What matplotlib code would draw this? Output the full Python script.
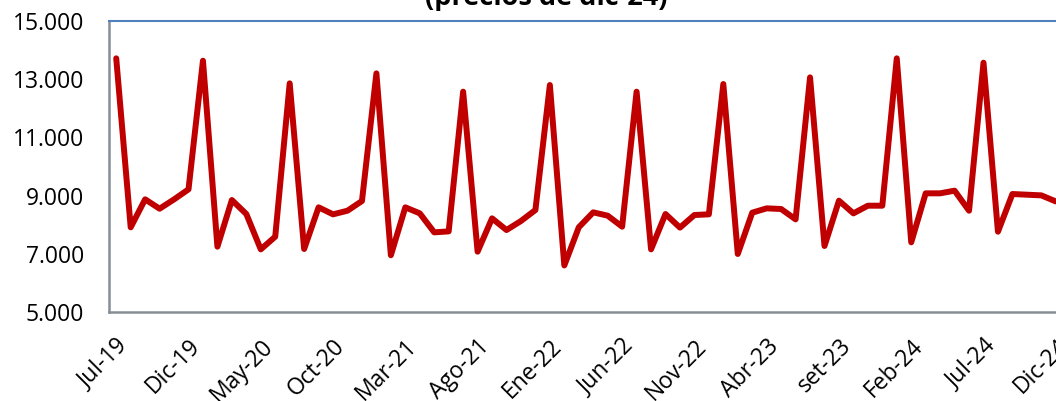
import numpy as np
import matplotlib.pyplot as plt
from matplotlib.ticker import FuncFormatter

plt.rcParams['font.family'] = ['Open Sans', 'DejaVu Sans']

# meses jul-19 ... dic-24
meses = ['Jul-19', 'Ago-19', 'Set-19', 'Oct-19', 'Nov-19', 'Dic-19',
         'Ene-20', 'Feb-20', 'Mar-20', 'Abr-20', 'May-20', 'Jun-20',
         'Jul-20', 'Ago-20', 'Set-20', 'Oct-20', 'Nov-20', 'Dic-20',
         'Ene-21', 'Feb-21', 'Mar-21', 'Abr-21', 'May-21', 'Jun-21',
         'Jul-21', 'Ago-21', 'Set-21', 'Oct-21', 'Nov-21', 'Dic-21',
         'Ene-22', 'Feb-22', 'Mar-22', 'Abr-22', 'May-22', 'Jun-22',
         'Jul-22', 'Ago-22', 'Set-22', 'Oct-22', 'Nov-22', 'Dic-22',
         'Ene-23', 'Feb-23', 'Mar-23', 'Abr-23', 'May-23', 'Jun-23',
         'Jul-23', 'Ago-23', 'set-23', 'Oct-23', 'Nov-23', 'Dic-23',
         'Ene-24', 'Feb-24', 'Mar-24', 'Abr-24', 'May-24', 'Jun-24',
         'Jul-24', 'Ago-24', 'Set-24', 'Oct-24', 'Nov-24', 'Dic-24']

valores = [13717, 7910, 8872, 8550, 8870, 9215,
           13635, 7245, 8848, 8367, 7153, 7588,
           12857, 7165, 8597, 8356, 8481, 8814,
           13201, 6950, 8597, 8390, 7737, 7771,
           12571, 7073, 8218, 7817, 8127, 8505,
           12800, 6600, 7910, 8425, 8310, 7932,
           12571, 7153, 8367, 7900, 8333, 8356,
           12834, 6993, 8413, 8562, 8539, 8184,
           13063, 7268, 8825, 8390, 8653, 8653,
           13717, 7394, 9078, 9078, 9169, 8481,
           13567, 7760, 9054, 9031, 9008, 8800]

etiquetas = ['Jul-19', 'Dic-19', 'May-20', 'Oct-20', 'Mar-21', 'Ago-21', 'Ene-22',
             'Jun-22', 'Nov-22', 'Abr-23', 'set-23', 'Feb-24', 'Jul-24', 'Dic-24']
pos_etiquetas = list(range(0, len(meses), 5))

fig = plt.figure(figsize=(10.56, 4.01), dpi=100)
ax = fig.add_axes([109/1056, 89/401, (1063-109)/1056, 291/401])

x = np.arange(len(valores))
ax.plot(x, valores, color='#C00000', linewidth=4.3, solid_joinstyle='round',
        solid_capstyle='round')

ax.set_xlim(-0.5, len(valores) - 0.5)
ax.set_ylim(5000, 15000)
ax.set_yticks(range(5000, 15001, 2000))
ax.yaxis.set_major_formatter(FuncFormatter(lambda v, p: '{:,.0f}'.format(v).replace(',', '.')))
ax.set_xticks(pos_etiquetas)
ax.set_xticklabels(etiquetas)

ax.tick_params(axis='y', length=0, pad=18, labelsize=16.5, colors='#000000')
ax.tick_params(axis='x', length=0, pad=16, labelsize=16.5)
plt.setp(ax.get_xticklabels(), rotation=45, ha='right', va='top', rotation_mode='anchor')

ax.spines['top'].set_color('#4F81BD')
ax.spines['top'].set_linewidth(1.5)
ax.spines['left'].set_color('#868E96')
ax.spines['left'].set_linewidth(1.8)
ax.spines['bottom'].set_color('#868E96')
ax.spines['bottom'].set_linewidth(1.8)
ax.spines['right'].set_visible(False)

fig.text(546/1056, 1 - 5/401, '(precios de dic-24)', ha='center', va='baseline',
         fontsize=19.5, fontweight='bold')

fig.savefig('out.png', dpi=100)
